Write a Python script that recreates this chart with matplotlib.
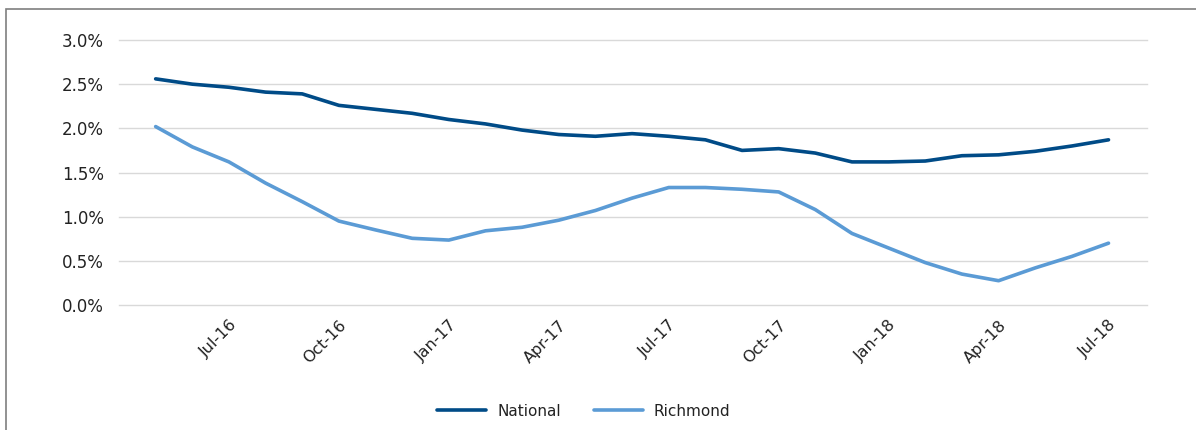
import matplotlib.pyplot as plt
from matplotlib.patches import Rectangle

# monthly, May-16 .. Jul-18
months = ['May-16', 'Jun-16', 'Jul-16', 'Aug-16', 'Sep-16', 'Oct-16', 'Nov-16', 'Dec-16',
          'Jan-17', 'Feb-17', 'Mar-17', 'Apr-17', 'May-17', 'Jun-17', 'Jul-17', 'Aug-17',
          'Sep-17', 'Oct-17', 'Nov-17', 'Dec-17', 'Jan-18', 'Feb-18', 'Mar-18', 'Apr-18',
          'May-18', 'Jun-18', 'Jul-18']
national = [2.56, 2.50, 2.465, 2.41, 2.39, 2.26, 2.215, 2.17, 2.10, 2.05, 1.98, 1.93,
            1.91, 1.94, 1.91, 1.87, 1.75, 1.77, 1.72, 1.62, 1.62, 1.63, 1.69, 1.70,
            1.74, 1.80, 1.87]
richmond = [2.02, 1.79, 1.62, 1.38, 1.17, 0.95, 0.85, 0.755, 0.735, 0.84, 0.88, 0.96,
            1.07, 1.21, 1.33, 1.33, 1.31, 1.28, 1.08, 0.81, 0.645, 0.48, 0.35, 0.275,
            0.42, 0.55, 0.70]
yticks = [0.0, 0.5, 1.0, 1.5, 2.0, 2.5, 3.0]

W, H = 1196, 430
fig = plt.figure(figsize=(W / 100, H / 100), dpi=100)
ax = fig.add_axes([119 / W, 1 - 305 / H, (1147 - 119) / W, (305 - 40) / H])

# outer frame (cut off at right and bottom)
fig.patches.append(Rectangle((6 / W, -0.1), 1.2, 1 - 9 / H + 0.1, transform=fig.transFigure,
                             fill=False, edgecolor='#7f7f7f', linewidth=1.2))

x = list(range(len(months)))
ax.plot(x, national, color='#004B87', linewidth=2.6, label='National', solid_capstyle='round')
ax.plot(x, richmond, color='#5B9BD5', linewidth=2.6, label='Richmond', solid_capstyle='round')

ax.set_xlim(-1.0, 27.05)
ax.set_ylim(0, 3.0)
ax.set_yticks(yticks)
ax.set_yticklabels(['%.1f%%' % v for v in yticks], fontsize=12, color='#222222')
ax.grid(axis='y', color='#d9d9d9', linewidth=1)
for gl in ax.get_ygridlines():
    gl.set_clip_on(False)
ax.set_axisbelow(True)

tick_idx = list(range(2, len(months), 3))
ax.set_xticks(tick_idx)
ax.set_xticklabels([months[i] for i in tick_idx], rotation=45, ha='right',
                   rotation_mode='anchor', fontsize=11.5, color='#222222')
ax.tick_params(axis='both', length=0)
ax.tick_params(axis='x', pad=9)
ax.tick_params(axis='y', pad=11)
for s in ax.spines.values():
    s.set_visible(False)

fig.legend(loc='center', bbox_to_anchor=(584 / W, 1 - 411 / H), ncol=2, frameon=False,
           fontsize=11, handlelength=3.2, handletextpad=0.7, columnspacing=2.2,
           labelcolor='#222222')

fig.savefig('out.png', dpi=100)
